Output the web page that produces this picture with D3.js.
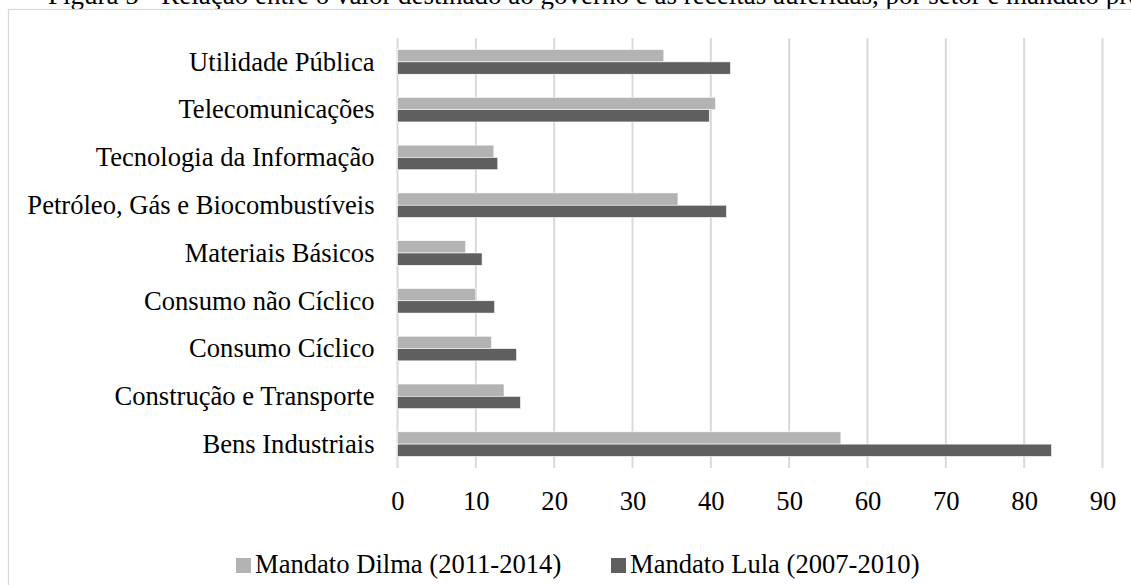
<!DOCTYPE html>
<html>
<head>
<meta charset="utf-8">
<script src="https://cdn.jsdelivr.net/npm/d3@7"></script>
<style>
  html, body { margin: 0; padding: 0; background: #ffffff; }
  svg { display: block; }
</style>
</head>
<body>
<svg id="chart" width="1131" height="585"></svg>
<script>
// Sectors, top to bottom
const categories = [
  "Utilidade Pública",
  "Telecomunicações",
  "Tecnologia da Informação",
  "Petróleo, Gás e Biocombustíveis",
  "Materiais Básicos",
  "Consumo não Cíclico",
  "Consumo Cíclico",
  "Construção e Transporte",
  "Bens Industriais"
];
// Values per term
const dilmaValues = [34.0, 40.6, 12.3, 35.8, 8.7, 10.0, 12.0, 13.6, 56.6];
const lulaValues  = [42.5, 39.8, 12.8, 42.0, 10.8, 12.4, 15.2, 15.7, 83.5];
const seriesNames = ["Mandato Dilma (2011-2014)", "Mandato Lula (2007-2010)"];
const tickValues = [0, 10, 20, 30, 40, 50, 60, 70, 80, 90];
const titleText = "Figura 5 - Relação entre o valor destinado ao governo e as receitas auferidas, por setor e mandato presidencial";

const colors = ["#b3b3b3", "#5f5f5f"];
const font = "'Liberation Serif', 'Times New Roman', serif";
const fontSize = 26.6;

const svg = d3.select("#chart");

// Caption above the chart frame (runs past the page edge)
svg.append("text")
  .attr("x", 48).attr("y", 3.5)
  .attr("font-family", font).attr("font-size", 27)
  .attr("fill", "#000")
  .text(titleText);

// Chart frame
svg.append("rect")
  .attr("x", 8.5).attr("y", 9.5)
  .attr("width", 1140).attr("height", 600)
  .attr("fill", "none").attr("stroke", "#d9d9d9").attr("stroke-width", 1.2);

const plotTop = 38, plotBottom = 468;
const x = d3.scaleLinear().domain([0, 90]).range([397.5, 1102.5]);
const y = d3.scaleBand().domain(categories).range([plotTop, plotBottom])
  .paddingInner(0.485).paddingOuter(0.2425);
const sub = d3.scaleBand().domain([0, 1]).range([0, y.bandwidth()]);

// Vertical gridlines
svg.append("g").selectAll("line").data(tickValues).join("line")
  .attr("x1", d => x(d)).attr("x2", d => x(d))
  .attr("y1", plotTop).attr("y2", plotBottom)
  .attr("stroke", "#d9d9d9").attr("stroke-width", 2);

// Bars
const series = [dilmaValues, lulaValues];
series.forEach((vals, si) => {
  svg.append("g").selectAll("rect").data(categories).join("rect")
    .attr("x", x(0))
    .attr("y", (c) => y(c) + sub(si))
    .attr("width", (c, i) => x(vals[i]) - x(0))
    .attr("height", sub.bandwidth())
    .attr("fill", colors[si])
    .attr("stroke", "#ffffff").attr("stroke-width", 0.6);
});

// Category labels
const yAxis = d3.axisLeft(y).tickSize(0).tickPadding(23);
const gy = svg.append("g").attr("transform", `translate(${x(0)},0)`).call(yAxis);
gy.select(".domain").remove();
gy.selectAll("text")
  .attr("font-family", font).attr("font-size", fontSize).attr("fill", "#000")
  .attr("dy", "0.33em");

// Value axis labels
const xAxis = d3.axisBottom(x).tickValues(tickValues).tickSize(0).tickPadding(0);
const gx = svg.append("g").attr("transform", `translate(0,${plotBottom + 42})`).call(xAxis);
gx.select(".domain").remove();
gx.selectAll("text")
  .attr("font-family", font).attr("font-size", fontSize).attr("fill", "#000")
  .attr("dy", 0);

// Legend
const legendX = [236, 611];
const legend = svg.append("g");
seriesNames.forEach((name, i) => {
  legend.append("rect")
    .attr("x", legendX[i]).attr("y", 558)
    .attr("width", 15).attr("height", 15)
    .attr("fill", colors[i]);
  legend.append("text")
    .attr("x", legendX[i] + 19).attr("y", 573)
    .attr("font-family", font).attr("font-size", fontSize).attr("fill", "#000")
    .text(name);
});
</script>
</body>
</html>
